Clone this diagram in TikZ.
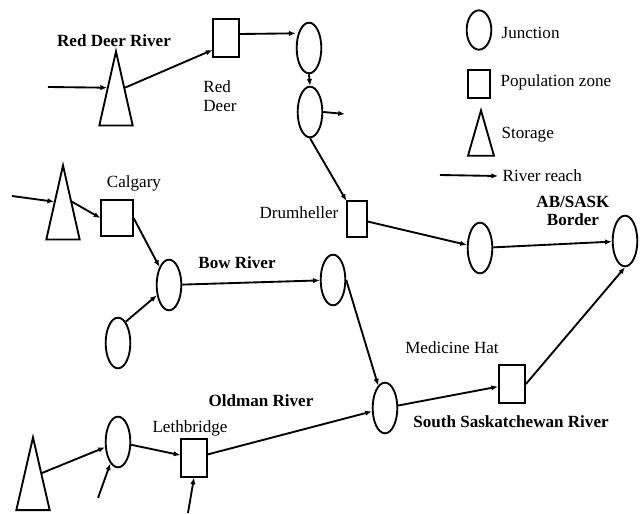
\documentclass[tikz,border=0pt]{standalone}
\usepackage{fontspec}
\setmainfont{Liberation Serif}
\usetikzlibrary{shapes.geometric,arrows.meta}

\begin{document}
\begin{tikzpicture}[x=0.75pt,y=-0.75pt,
  font=\fontsize{12.8}{14}\selectfont,
  junction/.style={draw,ellipse,line width=1.4pt,inner sep=0pt,minimum width=18.5pt,minimum height=38pt},
  zone/.style={draw,rectangle,line width=1.4pt,inner sep=0pt,minimum width=19pt,minimum height=28pt},
  storage/.style={draw,isosceles triangle,isosceles triangle stretches,shape border rotate=90,line width=1.4pt,inner sep=0pt,minimum width=25pt,minimum height=55.5pt,anchor=apex},
  reach/.style={line width=1.4pt,-{Latex[length=5pt,width=4pt]}},
  river/.style={font=\fontsize{12.8}{14}\selectfont\bfseries}]

\useasboundingbox (0,0) rectangle (640,514);

% Red Deer
\node[storage] (t1) at (116,49) {};
\node[zone] (rd) at (226,38) {};
\node[junction] (j1) at (309,48) {};
\node[junction] (j2) at (310,112) {};
\coordinate (in1) at (48,87);
\coordinate (out1) at (345,114);

% Bow
\node[storage] (t2) at (63,163) {};
\node[zone,minimum width=23.5pt,minimum height=26.5pt] (cal) at (117,218) {};
\node[zone,minimum width=14.5pt,minimum height=26.5pt] (dr) at (357,219) {};
\coordinate (in2) at (12,196);
\node[junction] (bow) at (169,285) {};
\node[junction] (low) at (118,343) {};
\node[junction] (j4) at (333,280) {};
\node[junction] (j3) at (480,248) {};
\node[junction] (bd) at (625,241) {};

% Oldman
\node[storage,minimum height=54.5pt] (t3) at (33,435) {};
\node[junction] (ol1) at (118,442) {};
\node[zone] (leth) at (194,458) {};
\node[junction] (mj) at (385,408) {};
\node[zone,minimum width=19.5pt] (mh) at (512,384) {};
\coordinate (in4) at (98,498);
\coordinate (in5) at (188,513);

\node[river] (rdr) at (114,41) {Red Deer River};
\node[align=left] (rdl) at (220,96) {Red\\Deer};
\node (call) at (134,183) {Calgary};
\node (drl) at (299,213) {Drumheller};
\node[river] (bowl) at (237,263) {Bow River};
\node[river,align=center] (abl) at (573,211) {AB/SASK\\Border};
\node (mhl) at (452,348) {Medicine Hat};
\node[river] (oml) at (261,401) {Oldman River};
\node (lel) at (190,428) {Lethbridge};
\node[river] (ssr) at (511,422) {South Saskatchewan River};

% legend
\node[junction,minimum height=29.5pt] (lj) at (479,30) {};
\node[anchor=west] (ljt) at (497,33) {Junction};
\node[zone,minimum width=16.5pt,minimum height=20.5pt] (lz) at (479,84) {};
\node[anchor=west] (lzt) at (496,82) {Population zone};
\node[storage,minimum width=19.5pt,minimum height=34pt] (ls) at (481,108) {};
\node[anchor=west] (lst) at (497,135) {Storage};
\coordinate (lr) at (440,175);
\node[anchor=west] (lrt) at (498,176) {River reach};
\draw[reach] (lr) -- (lrt.west);

\draw[reach] (in1) -- (t1.left side);
\draw[reach] (t1.right side) -- ([yshift=-9pt]rd.west);
\draw[reach] ([yshift=3pt]rd.east) -- ([yshift=11pt]j1.west);
\draw[reach] (j1.south) -- (j2.north);
\draw[reach] (j2.east) -- (out1);
\draw[reach] (j2.south) -- (dr);

\draw[reach] (in2) -- (t2.left side);
\draw[reach] (t2.right side) -- (cal.west);
\draw[reach] (cal.east) -- (bow);
\draw[reach] (low.70) -- (bow);
\draw[reach] (bow) -- (j4);
\draw[reach] (j4.east) -- (mj);
\draw[reach] (dr) -- (j3);
\draw[reach] (j3) -- (bd);

\draw[reach] (t3.right side) -- (ol1);
\draw[reach] (in4) -- (ol1);
\draw[reach] (ol1) -- (leth);
\draw[reach] (in5) -- (leth.south);
\draw[reach] (leth) -- (mj);
\draw[reach] (mj) -- (mh);
\draw[reach] (mh.east) -- (bd.south);
\end{tikzpicture}
\end{document}
